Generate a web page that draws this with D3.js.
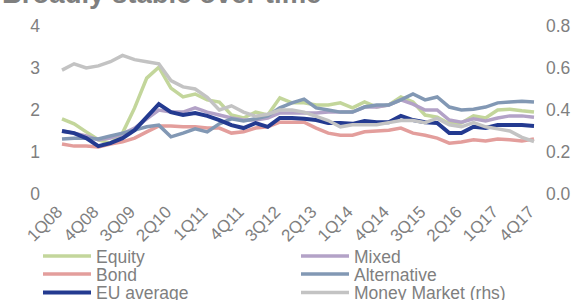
<!DOCTYPE html>
<html>
<head>
<meta charset="utf-8">
<script src="https://cdn.jsdelivr.net/npm/d3@7"></script>
<style>
  body { margin: 0; background: #fff; }
  text { font-family: "Liberation Sans", Arial, sans-serif; fill: #7f7f7f; }
</style>
</head>
<body>
<div id="chart"></div>
<script>
// quarters 1Q08 .. 4Q17
const quarters = [
  "1Q08","2Q08","3Q08","4Q08","1Q09","2Q09","3Q09","4Q09",
  "1Q10","2Q10","3Q10","4Q10","1Q11","2Q11","3Q11","4Q11",
  "1Q12","2Q12","3Q12","4Q12","1Q13","2Q13","3Q13","4Q13",
  "1Q14","2Q14","3Q14","4Q14","1Q15","2Q15","3Q15","4Q15",
  "1Q16","2Q16","3Q16","4Q16","1Q17","2Q17","3Q17","4Q17"
];
const xTickLabels = ["1Q08","4Q08","3Q09","2Q10","1Q11","4Q11","3Q12","2Q13","1Q14","4Q14","3Q15","2Q16","1Q17","4Q17"];
const leftTicks = [0, 1, 2, 3, 4];
const rightTicks = [0, 0.2, 0.4, 0.6, 0.8];

const equity = [1.79,1.67,1.48,1.29,1.21,1.45,2.05,2.76,3.02,2.52,2.31,2.38,2.24,2.19,1.88,1.81,1.95,1.88,2.29,2.17,
                2.17,2.12,2.12,2.17,2.05,2.19,2.07,2.12,2.31,2.19,1.88,1.83,1.67,1.69,1.86,1.81,2.0,2.02,1.98,1.95];
const mixed = [1.5,1.45,1.38,1.29,1.33,1.43,1.57,1.79,2.0,1.95,1.95,2.05,1.95,1.88,1.81,1.76,1.76,1.81,1.93,1.93,
               1.93,1.93,1.95,1.95,1.95,2.07,2.07,2.12,2.24,2.14,2.0,2.0,1.76,1.71,1.79,1.74,1.81,1.86,1.86,1.83];
const bond = [1.19,1.14,1.14,1.12,1.19,1.24,1.33,1.48,1.62,1.62,1.6,1.6,1.57,1.57,1.45,1.48,1.57,1.6,1.71,1.71,
              1.71,1.57,1.45,1.4,1.4,1.48,1.5,1.52,1.57,1.45,1.4,1.33,1.21,1.24,1.29,1.26,1.31,1.29,1.26,1.31];
const alternative = [1.31,1.33,1.33,1.31,1.38,1.45,1.52,1.6,1.64,1.36,1.45,1.55,1.48,1.67,1.79,1.74,1.79,1.86,2.05,2.17,
                     2.26,2.05,2.0,1.95,1.95,2.07,2.12,2.12,2.24,2.38,2.24,2.31,2.07,2.0,2.02,2.07,2.17,2.19,2.21,2.19];
const euAverage = [1.5,1.45,1.33,1.14,1.21,1.33,1.52,1.83,2.14,1.95,1.88,1.93,1.86,1.76,1.64,1.57,1.69,1.6,1.81,1.81,
                   1.79,1.76,1.69,1.69,1.67,1.74,1.71,1.71,1.86,1.76,1.71,1.69,1.45,1.45,1.6,1.57,1.64,1.64,1.64,1.62];
// right hand scale
const moneyMarket = [0.59,0.62,0.6,0.61,0.63,0.66,0.64,0.63,0.62,0.54,0.51,0.5,0.46,0.4,0.42,0.39,0.37,0.38,0.4,0.4,
                     0.39,0.37,0.35,0.32,0.33,0.33,0.33,0.34,0.35,0.35,0.34,0.36,0.33,0.32,0.34,0.32,0.31,0.3,0.27,0.25];

const series = [
  {name: "Equity", values: equity, color: "#c3d69b", axis: "left", width: 3.5},
  {name: "Mixed", values: mixed, color: "#b3a2c7", axis: "left", width: 3.5},
  {name: "Bond", values: bond, color: "#e39e9c", axis: "left", width: 3.5},
  {name: "Alternative", values: alternative, color: "#8298b4", axis: "left", width: 3.5},
  {name: "EU average", values: euAverage, color: "#233a90", axis: "left", width: 4},
  {name: "Money Market (rhs)", values: moneyMarket, color: "#c3c3c3", axis: "right", width: 3.5}
];
// legend layout: left column then right column
const legendLeft = ["Equity", "Bond", "EU average"];
const legendRight = ["Mixed", "Alternative", "Money Market (rhs)"];

const width = 582, height = 300;
const svg = d3.select("#chart").append("svg")
  .attr("width", width)
  .attr("height", height);

const x = d3.scalePoint().domain(quarters).range([62, 534]);
const y = d3.scaleLinear().domain([0, 4]).range([194, 26]);
const yR = d3.scaleLinear().domain([0, 0.8]).range([194, 26]);

// title, cut by the top edge
svg.append("text")
  .attr("x", 2)
  .attr("y", 3)
  .style("font-weight", "bold")
  .style("font-size", "27.5px")
  .text("Broadly stable over time");

// left axis
const gl = svg.append("g")
  .attr("transform", "translate(40,0)")
  .call(d3.axisLeft(y).tickValues(leftTicks).tickSize(0).tickPadding(0).tickFormat(d3.format("d")));
gl.select(".domain").remove();
gl.selectAll("text").style("font-size", "17.5px").attr("fill", null);

// right axis
const gr = svg.append("g")
  .attr("transform", "translate(546,0)")
  .call(d3.axisRight(yR).tickValues(rightTicks).tickSize(0).tickPadding(0).tickFormat(d3.format(".1f")));
gr.select(".domain").remove();
gr.selectAll("text").style("font-size", "17.5px").attr("fill", null);

// bottom axis with rotated labels
const gx = svg.append("g")
  .attr("transform", "translate(0,213)")
  .call(d3.axisBottom(x).tickValues(xTickLabels).tickSize(0));
gx.select(".domain").remove();
gx.selectAll("text")
  .attr("y", 0)
  .attr("dy", 0)
  .attr("x", 0)
  .attr("fill", null)
  .attr("text-anchor", "end")
  .attr("transform", "translate(1,0) rotate(-45)")
  .style("font-size", "17px");

// lines
const line = d3.line()
  .x((d, i) => x(quarters[i]));

series.forEach(s => {
  const sc = s.axis === "right" ? yR : y;
  svg.append("path")
    .datum(s.values)
    .attr("d", line.y(d => sc(d)))
    .attr("fill", "none")
    .attr("stroke", s.color)
    .attr("stroke-width", s.width)
    .attr("stroke-linejoin", "miter");
});

// legend
const rowY = [256, 274, 292.5];
function drawLegend(names, x0) {
  names.forEach((n, i) => {
    const s = series.find(d => d.name === n);
    svg.append("line")
      .attr("x1", x0).attr("x2", x0 + 48)
      .attr("y1", rowY[i]).attr("y2", rowY[i])
      .attr("stroke", s.color)
      .attr("stroke-width", s.width);
    svg.append("text")
      .attr("x", x0 + 53)
      .attr("y", rowY[i] + 6.5)
      .style("font-size", "17.5px")
      .text(n);
  });
}
drawLegend(legendLeft, 43);
drawLegend(legendRight, 301);
</script>
</body>
</html>
